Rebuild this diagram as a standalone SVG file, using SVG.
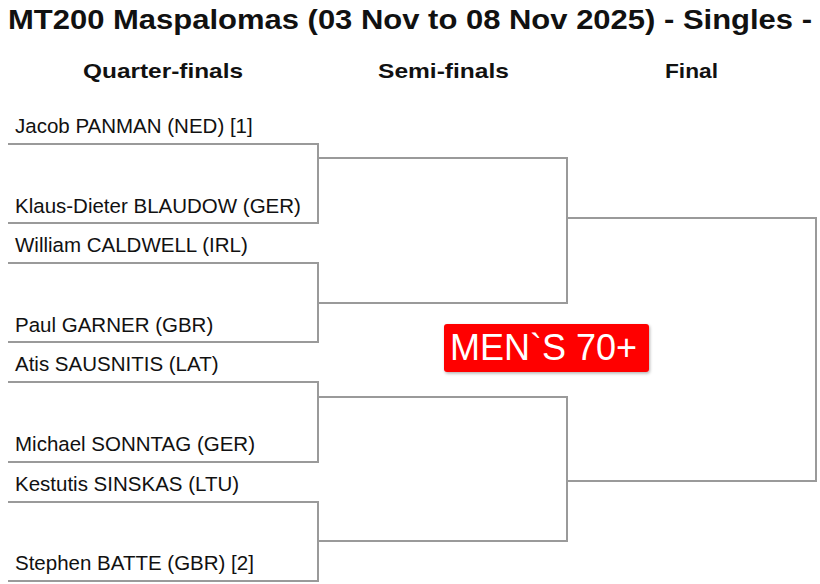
<svg xmlns="http://www.w3.org/2000/svg" width="820" height="584" viewBox="0 0 820 584">
<style>
text{font-family:"Liberation Sans",Arial,sans-serif;fill:#111}
.title{font-size:28px;font-weight:bold}
.hdr{font-size:21px;font-weight:bold}
.name{font-size:20.5px}
.ln{fill:none;stroke:#9a9a9a;stroke-width:2}
.badge{fill:#ff0000}
.badgetxt{font-size:36px;fill:#fff}
</style>
<defs>
<filter id="sh" x="-10%" y="-20%" width="120%" height="150%">
<feDropShadow dx="1" dy="1.5" stdDeviation="1.5" flood-color="#000" flood-opacity="0.3"/>
</filter>
</defs>
<rect width="820" height="584" fill="#fff"/>
<text class="title" x="8" y="29" textLength="804" lengthAdjust="spacingAndGlyphs">MT200 Maspalomas (03 Nov to 08 Nov 2025) - Singles -</text>
<text class="hdr" x="83" y="78" textLength="160" lengthAdjust="spacingAndGlyphs">Quarter-finals</text>
<text class="hdr" x="378" y="78" textLength="131" lengthAdjust="spacingAndGlyphs">Semi-finals</text>
<text class="hdr" x="665" y="78" textLength="53" lengthAdjust="spacingAndGlyphs">Final</text>
<g id="connectors">
<path class="ln" d="M8 144H318V223H8"/>
<path class="ln" d="M8 263H318V342H8"/>
<path class="ln" d="M8 382H318V462H8"/>
<path class="ln" d="M8 502H318V581H8"/>
<path class="ln" d="M318 158H567V303H318"/>
<path class="ln" d="M318 397H567V541H318"/>
<path class="ln" d="M567 218H816V481H567"/>
</g>
<g id="p1"><text class="name" x="15" y="133">Jacob PANMAN (NED) [1]</text></g>
<g id="p2"><text class="name" x="15" y="213">Klaus-Dieter BLAUDOW (GER)</text></g>
<g id="p3"><text class="name" x="15" y="252">William CALDWELL (IRL)</text></g>
<g id="p4"><text class="name" x="15" y="332">Paul GARNER (GBR)</text></g>
<g id="p5"><text class="name" x="15" y="371">Atis SAUSNITIS (LAT)</text></g>
<g id="p6"><text class="name" x="15" y="451">Michael SONNTAG (GER)</text></g>
<g id="p7"><text class="name" x="15" y="491">Kestutis SINSKAS (LTU)</text></g>
<g id="p8"><text class="name" x="15" y="570">Stephen BATTE (GBR) [2]</text></g>
<g id="badge">
<rect class="badge" x="444" y="324" width="205" height="48" rx="3" filter="url(#sh)"/>
<text class="badgetxt" x="450" y="360">MEN`S 70+</text>
</g>
</svg>
